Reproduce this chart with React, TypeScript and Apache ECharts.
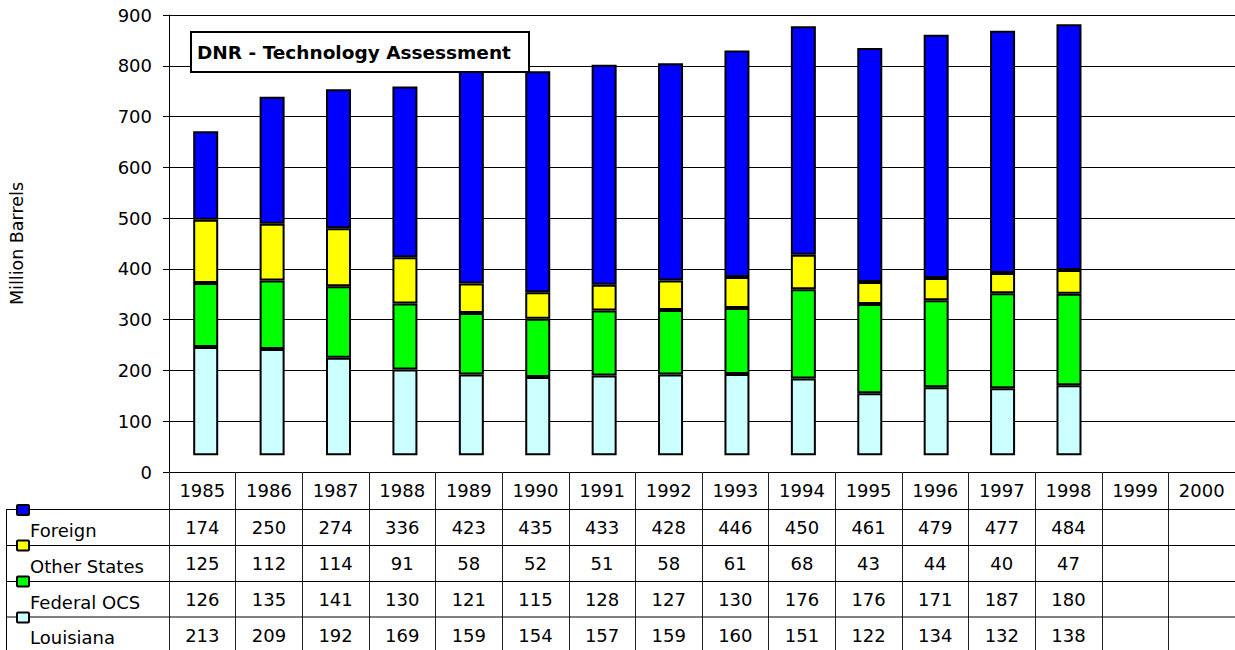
import React, { useEffect, useRef } from "react";
import * as echarts from "echarts";

const years = ["1985","1986","1987","1988","1989","1990","1991","1992","1993","1994","1995","1996","1997","1998","1999","2000"];
const foreign = [174, 250, 274, 336, 423, 435, 433, 428, 446, 450, 461, 479, 477, 484];
const otherStates = [125, 112, 114, 91, 58, 52, 51, 58, 61, 68, 43, 44, 40, 47];
const federalOCS = [126, 135, 141, 130, 121, 115, 128, 127, 130, 176, 176, 171, 187, 180];
const louisiana = [213, 209, 192, 169, 159, 154, 157, 159, 160, 151, 122, 134, 132, 138];
const yTicks = [0, 100, 200, 300, 400, 500, 600, 700, 800, 900];
const titleText = "DNR - Technology Assessment";
const yTitle = "Million Barrels";

const FONT = "DejaVu Sans";

const rows = [
  { name: "Foreign", data: foreign, color: "#0000FF" },
  { name: "Other States", data: otherStates, color: "#FFFF00" },
  { name: "Federal OCS", data: federalOCS, color: "#00FF00" },
  { name: "Louisiana", data: louisiana, color: "#CCFFFF" },
];

export default function App() {
  const ref = useRef<HTMLDivElement>(null);
  useEffect(() => {
    const chart = echarts.init(ref.current!, null, { renderer: "svg" });
    const gridTop = 15;
    const gridH = 457;
    const rowMargins = [55.3, 91.3, 127.3, 163.3];
    const rowLineY = [509.5, 545.5, 581.5, 617];
    const keyY = [505, 540.5, 576.5, 612.5];
    const labelY = [530, 566, 602, 637];

    const tableAxes = rows.map((r, i) => ({
      type: "category",
      gridIndex: 0,
      position: "bottom",
      data: years.map((_, k) => (k < r.data.length ? String(r.data[k]) : "")),
      axisLine: { show: false },
      axisTick: { show: false },
      splitLine: { show: false },
      axisLabel: {
        interval: 0,
        margin: rowMargins[i],
        verticalAlign: "middle",
        fontFamily: FONT,
        fontSize: 18,
        color: "#000",
      },
    }));

    const seriesOrder = [rows[3], rows[2], rows[1], rows[0]];

    const graphics: any[] = [];
    rowLineY.forEach((y) => {
      graphics.push({
        type: "line",
        shape: { x1: 6, y1: y, x2: 1235, y2: y },
        style: { stroke: "#000", lineWidth: 1 },
        z: 10,
      });
    });
    graphics.push({
      type: "line",
      shape: { x1: 6.5, y1: rowLineY[0], x2: 6.5, y2: 650 },
      style: { stroke: "#000", lineWidth: 1 },
      z: 10,
    });
    rows.forEach((r, i) => {
      graphics.push({
        type: "rect",
        shape: { x: 17, y: keyY[i], width: 12, height: 10, r: 1 },
        style: { fill: r.color, stroke: "#000", lineWidth: 2 },
        z: 12,
      });
      graphics.push({
        type: "text",
        x: 30,
        y: labelY[i],
        style: {
          text: r.name,
          fontFamily: FONT,
          fontSize: 18,
          fill: "#000",
          verticalAlign: "middle",
          align: "left",
        },
        z: 12,
      });
    });
    graphics.push({
      type: "rect",
      shape: { x: 191, y: 32, width: 338, height: 40 },
      style: { fill: "#fff", stroke: "#000", lineWidth: 2 },
      z: 20,
    });
    graphics.push({
      type: "text",
      x: 197,
      y: 52,
      style: {
        text: titleText,
        fontFamily: FONT,
        fontSize: 18.5,
        fontWeight: "bold",
        fill: "#000",
        verticalAlign: "middle",
      },
      z: 21,
    });

    chart.setOption({
      animation: false,
      backgroundColor: "#fff",
      grid: [
        { left: 167, top: gridTop, width: 1072, height: gridH },
        { left: 172.5, top: gridTop, width: 1072, height: gridH },
      ],
      xAxis: [
        {
          type: "category",
          gridIndex: 0,
          position: "bottom",
          data: years,
          boundaryGap: true,
          axisLine: { show: true, lineStyle: { color: "#000", width: 1 } },
          axisTick: { show: true, interval: 0, length: 182, lineStyle: { color: "#222", width: 1 } },
          axisLabel: {
            interval: 0,
            margin: 18.6,
            verticalAlign: "middle",
            fontFamily: FONT,
            fontSize: 18,
            color: "#000",
          },
          splitLine: { show: false },
        },
        ...tableAxes,
        {
          type: "category",
          gridIndex: 1,
          data: years,
          show: false,
        },
      ],
      yAxis: [
        {
          type: "value",
          gridIndex: 0,
          min: yTicks[0],
          max: yTicks[yTicks.length - 1],
          interval: 100,
          name: yTitle,
          nameLocation: "middle",
          nameRotate: 90,
          nameGap: 143,
          nameTextStyle: { fontFamily: FONT, fontSize: 17.5, color: "#000" },
          axisLine: { show: true, lineStyle: { color: "#000", width: 1 } },
          axisTick: { show: true, length: 6, lineStyle: { color: "#000" } },
          axisLabel: { margin: 17, fontFamily: FONT, fontSize: 18, color: "#000" },
          splitLine: { show: true, lineStyle: { color: "#000", width: 1 } },
        },
        {
          type: "value",
          gridIndex: 1,
          min: -33,
          max: 867,
          show: false,
          splitLine: { show: false },
        },
      ],
      series: seriesOrder.map((r) => ({
        type: "bar",
        name: r.name,
        xAxisIndex: 5,
        yAxisIndex: 1,
        stack: "total",
        barWidth: 25,
        data: r.data,
        itemStyle: { color: r.color, borderColor: "#000", borderWidth: 2 },
      })),
      graphic: graphics,
    });
    return () => chart.dispose();
  }, []);
  return (
    <div
      ref={ref}
      style={{ position: "absolute", left: 0, top: 0, width: 1235, height: 650 }}
    />
  );
}
